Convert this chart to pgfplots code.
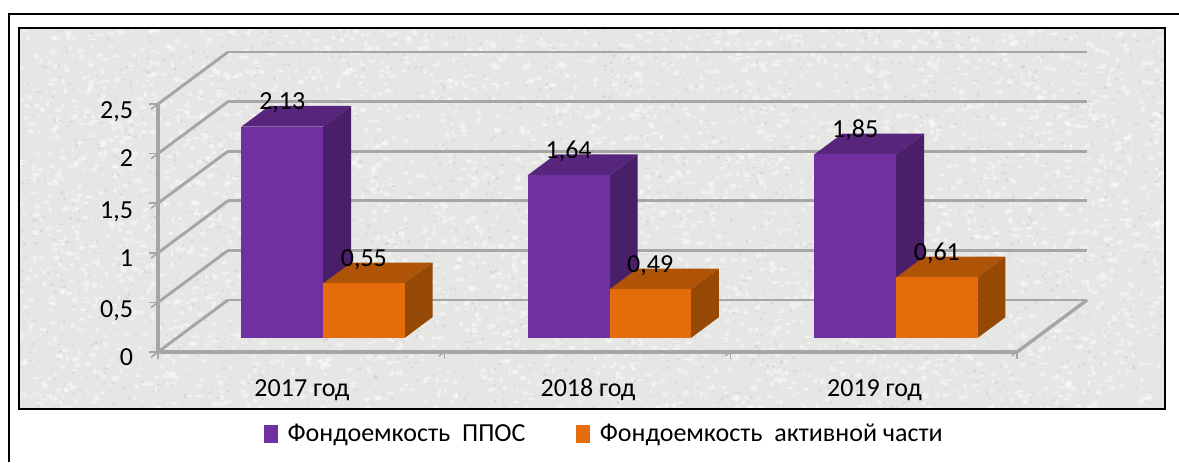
\documentclass[border=0pt]{standalone}
\usepackage{pgfplots}
\pgfplotsset{compat=1.18}
\usepackage{fontspec}
\setmainfont{Carlito}
\definecolor{purF}{HTML}{7030A0}
\definecolor{purT}{HTML}{57267C}
\definecolor{purS}{HTML}{4A1F69}
\definecolor{orF}{HTML}{E46C0A}
\definecolor{orT}{HTML}{AF5306}
\definecolor{orS}{HTML}{964805}
\definecolor{gridc}{HTML}{A6A6A6}
\definecolor{bgc}{HTML}{E6E6E4}
% one 3-D bar: #1 left x, #2 right x, #3 value, #4 colour stem
\newcommand{\threedbar}[4]{%
  \addplot3[forget plot,draw=none,fill=#4T] coordinates {(#1,0.27,#3)(#2,0.27,#3)(#2,0.67,#3)(#1,0.67,#3)} --cycle;
  \addplot3[forget plot,draw=none,fill=#4S] coordinates {(#2,0.27,0)(#2,0.67,0)(#2,0.67,#3)(#2,0.27,#3)} --cycle;
  \addplot3[forget plot,draw=none,fill=#4F] coordinates {(#1,0.27,0)(#2,0.27,0)(#2,0.27,#3)(#1,0.27,#3)} --cycle;
  \node[font=\fontsize{19.5}{20}\selectfont,yshift=18pt] at (axis cs:{(#1+#2)/2},0.27,#3) {\datalabel{#3}};
}
\newcommand{\datalabel}[1]{\pgfmathparse{#1}\pgfmathprintnumber[/pgf/number format/.cd,fixed,fixed zerofill,precision=2,use comma,assume math mode=true]{\pgfmathresult}}
\begin{document}
\begin{tikzpicture}[x=1pt,y=1pt]
\useasboundingbox (0,0) rectangle (884.25pt,346.5pt);
\fill[white] (0,0) rectangle (884.25pt,346.5pt);
\draw[black,line width=1.5pt] (6.75pt,0) -- (6.75pt,336pt) -- (884.25pt,336pt);
% mottled paper background
\fill[bgc] (14.25pt,39.75pt) rectangle (873.75pt,325.5pt);
\begin{scope}
\clip (14.25pt,39.75pt) rectangle (873.75pt,325.5pt);
\pgfmathsetseed{4242}
\foreach \j in {1,...,14}{
\fill[white,opacity=0.4] \foreach \i in {1,...,300}{ ({14.25+859.5*rnd},{39.75+285.75*rnd}) ellipse [x radius={0.8+2.2*rnd},y radius={0.6+1.6*rnd}] };
}
\foreach \j in {1,...,8}{
\fill[black!55,opacity=0.13] \foreach \i in {1,...,300}{ ({14.25+859.5*rnd},{39.75+285.75*rnd}) ellipse [x radius={0.4+1.1*rnd},y radius={0.4+0.9*rnd}] };
}
\end{scope}
\draw[black,line width=1.5pt] (14.25pt,39.75pt) rectangle (873.75pt,325.5pt);
\begin{axis}[
  at={(118.5pt,82.5pt)},anchor=origin,
  x={(214.75pt,0pt)},y={(52.5pt,39pt)},z={(0pt,74.4pt)},
  xmin=0,xmax=3,ymin=0,ymax=1,zmin=0,zmax=2.5,
  clip=false,
  axis x line*=bottom,axis y line*=left,axis z line*=left,
  axis line style={gridc,line width=2.4pt,-},
  xtick={0.5,1.5,2.5},
  xticklabels={2017 год,2018 год,2019 год},
  minor xtick={0,1,2,3},
  ytick=\empty,
  ztick={0,0.5,1,1.5,2,2.5},
  zticklabels={0,{0,5},1,{1,5},2,{2,5}},
  xmajorgrids=false,ymajorgrids=false,zmajorgrids=true,
  major grid style={gridc,line width=2.2pt},
  major x tick style={draw=none},
  minor x tick style={gridc,line width=1pt},
  major z tick style={gridc,line width=1.2pt},
  tick align=outside,
  major tick length=6.5pt,minor tick length=5pt,
  ticklabel style={font=\fontsize{19.5}{20}\selectfont,text=black},
  x tick label style={xshift=11.5pt,yshift=-13pt},
  z tick label style={xshift=-10pt,yshift=3pt},
  legend columns=2,
  legend style={draw=none,fill=none,font=\fontsize{19.5}{20}\selectfont,
    at={(335pt,-61.5pt)},anchor=center,legend cell align=left,
    /tikz/every even column/.append style={column sep=36pt},
    /tikz/every odd column/.append style={column sep=5.25pt}},
  legend image code/.code={\fill[#1] (0pt,-6.4pt) rectangle (10.5pt,6.4pt);},
]
\addplot3[forget plot,gridc,line width=2.2pt] coordinates {(3,0,0)(3,1,0)};
\threedbar{0.225}{0.511}{2.13}{pur}
\threedbar{0.511}{0.795}{0.55}{or}
\threedbar{1.225}{1.511}{1.64}{pur}
\threedbar{1.511}{1.795}{0.49}{or}
\threedbar{2.226}{2.512}{1.85}{pur}
\threedbar{2.512}{2.796}{0.61}{or}
\addlegendimage{fill=purF,draw=none}
\addlegendentry{Фондоемкость\ \ ППОС}
\addlegendimage{fill=orF,draw=none}
\addlegendentry{Фондоемкость\ \ активной\ части}
\end{axis}
\end{tikzpicture}
\end{document}
